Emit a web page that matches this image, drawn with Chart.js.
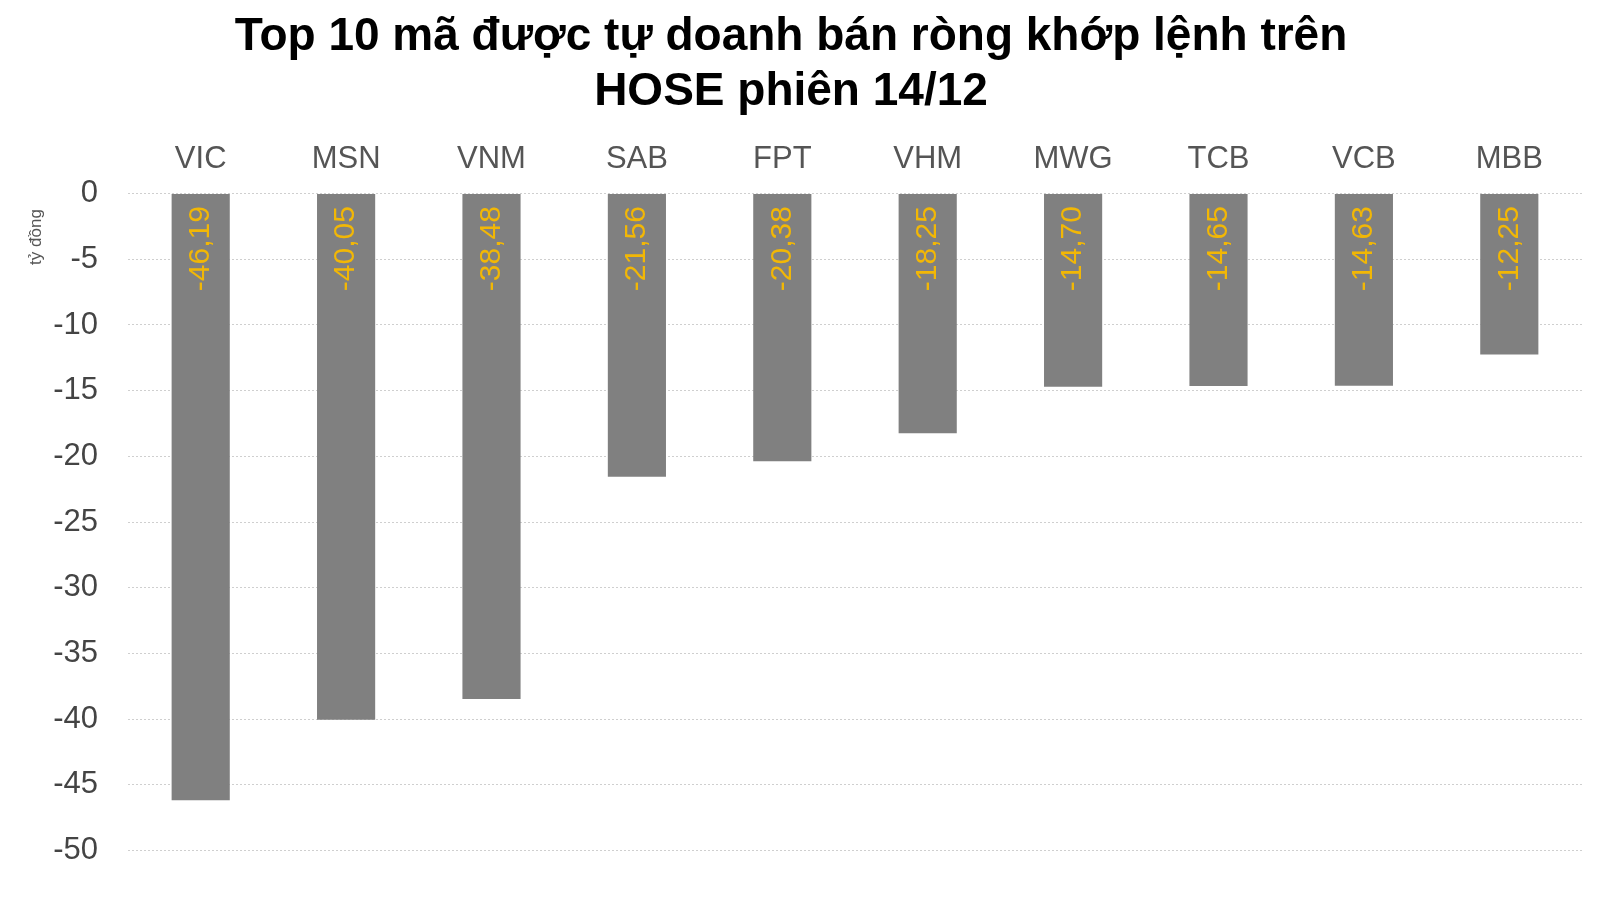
<!DOCTYPE html>
<html><head><meta charset="utf-8">
<script src="https://cdn.jsdelivr.net/npm/chart.js@4"></script>
<style>html,body{margin:0;padding:0;background:#fff}#w{width:1600px;height:899px}</style>
</head><body><div id="w"><canvas id="c"></canvas></div>
<script>
const categories = ["VIC","MSN","VNM","SAB","FPT","VHM","MWG","TCB","VCB","MBB"];
const values = [-46.19,-40.05,-38.48,-21.56,-20.38,-18.25,-14.70,-14.65,-14.63,-12.25];
const titleLines = ["Top 10 mã được tự doanh bán ròng khớp lệnh trên","HOSE phiên 14/12"];
const yTitle = "tỷ đồng";

const labelPlugin = {
  id:'lbl',
  afterDatasetsDraw(chart){
    const ctx = chart.ctx, meta = chart.getDatasetMeta(0);
    ctx.save();
    ctx.font = '30px "Liberation Sans", Arial, sans-serif';
    ctx.fillStyle = '#f2b705';
    ctx.textBaseline = 'middle';
    ctx.textAlign = 'right';
    meta.data.forEach((bar,i)=>{
      ctx.save();
      ctx.translate(bar.x, bar.base + 12);
      ctx.rotate(-Math.PI/2);
      ctx.fillText(values[i].toFixed(2).replace('.',','),0,0);
      ctx.restore();
    });
    ctx.font = '17px "Liberation Sans", Arial, sans-serif';
    ctx.fillStyle = '#555';
    ctx.textAlign = 'center';
    ctx.translate(36, 237);
    ctx.rotate(-Math.PI/2);
    ctx.fillText(yTitle,0,0);
    ctx.restore();
  }
};

new Chart(document.getElementById('c'),{
  type:'bar',
  data:{labels:categories,datasets:[{data:values,backgroundColor:'#808080',barPercentage:0.4,categoryPercentage:1}]},
  options:{
    responsive:true,maintainAspectRatio:false,animation:false,
    layout:{padding:{left:0,right:18,top:10,bottom:14}},
    plugins:{legend:{display:false},tooltip:{enabled:false},
      title:{display:true,text:titleLines,color:'#000',font:{size:46,weight:'bold',family:'"Liberation Sans", Arial, sans-serif'},padding:{bottom:12},lineHeight:1.22}},
    scales:{
      x:{position:'top',grid:{display:false},border:{display:false},
        ticks:{color:'#555',font:{size:31,family:'"Liberation Sans", Arial, sans-serif'},padding:8}},
      y:{min:-50,max:0,
        afterFit(s){s.width=128;},
        grid:{color:'#cfcfcf',lineWidth:1,drawTicks:false},
        border:{display:false,dash:[2,2]},
        ticks:{stepSize:5,color:'#444',padding:30,font:{size:31,family:'"Liberation Sans", Arial, sans-serif'}}}
    }
  },
  plugins:[labelPlugin]
});
</script></body></html>
